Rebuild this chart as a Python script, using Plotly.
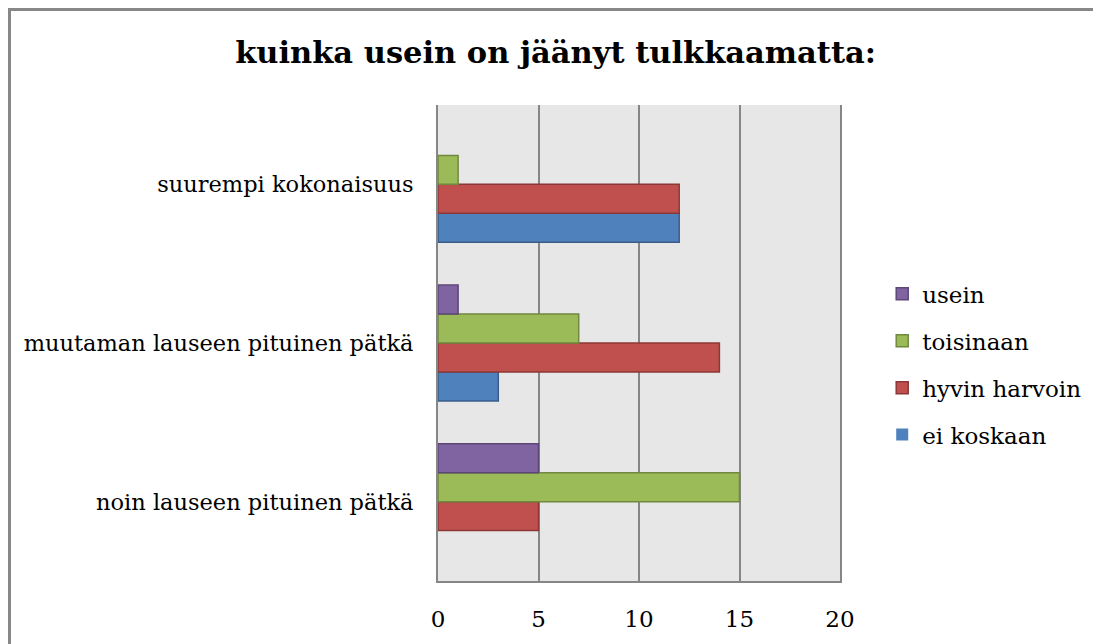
import plotly.graph_objects as go

# ── 資料 ──
categories = ["noin lauseen pituinen pätkä",
              "muutaman lauseen pituinen pätkä",
              "suurempi kokonaisuus"]

ei_koskaan    = [0, 3, 12]
hyvin_harvoin = [5, 14, 12]
toisinaan     = [15, 7, 1]
usein         = [5, 1, 0]

series = [
    ("ei koskaan",    ei_koskaan,    "#4f81bd", "#385d8a"),
    ("hyvin harvoin", hyvin_harvoin, "#c0504d", "#8c3836"),
    ("toisinaan",     toisinaan,     "#9bbb59", "#71893f"),
    ("usein",         usein,         "#8064a2", "#5c4776"),
]

FONT = "DejaVu Serif"
W, H = 1093, 636          # sivun body-marginaali (8px) huomioitu
L, T, PW, PH = 430, 97, 402, 476

fig = go.Figure()
for i, (name, vals, color, edge) in enumerate(series):
    fig.add_trace(go.Bar(
        y=categories, x=vals, name=name, orientation='h',
        marker=dict(color=color,
                    line=dict(color=edge, width=[0 if v == 0 else 1.5 for v in vals])),
        legendgroup=f"g{i}", legendrank=len(series) - i,
    ))

fig.update_layout(
    barmode='group',
    bargap=0.27,
    bargroupgap=0,
    width=W, height=H,
    margin=dict(l=L, r=W - L - PW, t=T, b=H - T - PH),
    paper_bgcolor='#ffffff',
    plot_bgcolor='#e7e7e7',
    font=dict(family=FONT, size=20, color='#000000'),
    title=dict(text="<b>kuinka usein on jäänyt tulkkaamatta:</b>",
               x=0.501, xanchor='center', y=0.931, yanchor='middle',
               font=dict(family=FONT, size=30.5, color='#000000')),
    showlegend=True,
    legend=dict(x=1.105, xanchor='left', y=0.455, yanchor='middle',
                traceorder='grouped', tracegroupgap=14,
                bgcolor='rgba(0,0,0,0)',
                font=dict(family=FONT, size=23), itemwidth=30),
    shapes=[dict(type='rect', xref='paper', yref='paper',
                 x0=(1.5 - L) / PW, x1=2.0,
                 y0=-0.5, y1=(T + PH - 1.5) / PH,
                 line=dict(color='#878787', width=3))],
)

fig.update_xaxes(range=[0, 20], dtick=5, showgrid=True, gridcolor='#868686',
                 gridwidth=2, showline=True, linecolor='#868686', linewidth=2,
                 zeroline=False, ticks='', ticklabelstandoff=16,
                 tickfont=dict(family=FONT, size=23), fixedrange=True)
fig.update_yaxes(showline=True, mirror=True, linecolor='#868686', linewidth=2,
                 showgrid=False, ticks='', ticklabelstandoff=18,
                 tickfont=dict(family=FONT, size=22.5), fixedrange=True)

fig.write_html("out.html")
